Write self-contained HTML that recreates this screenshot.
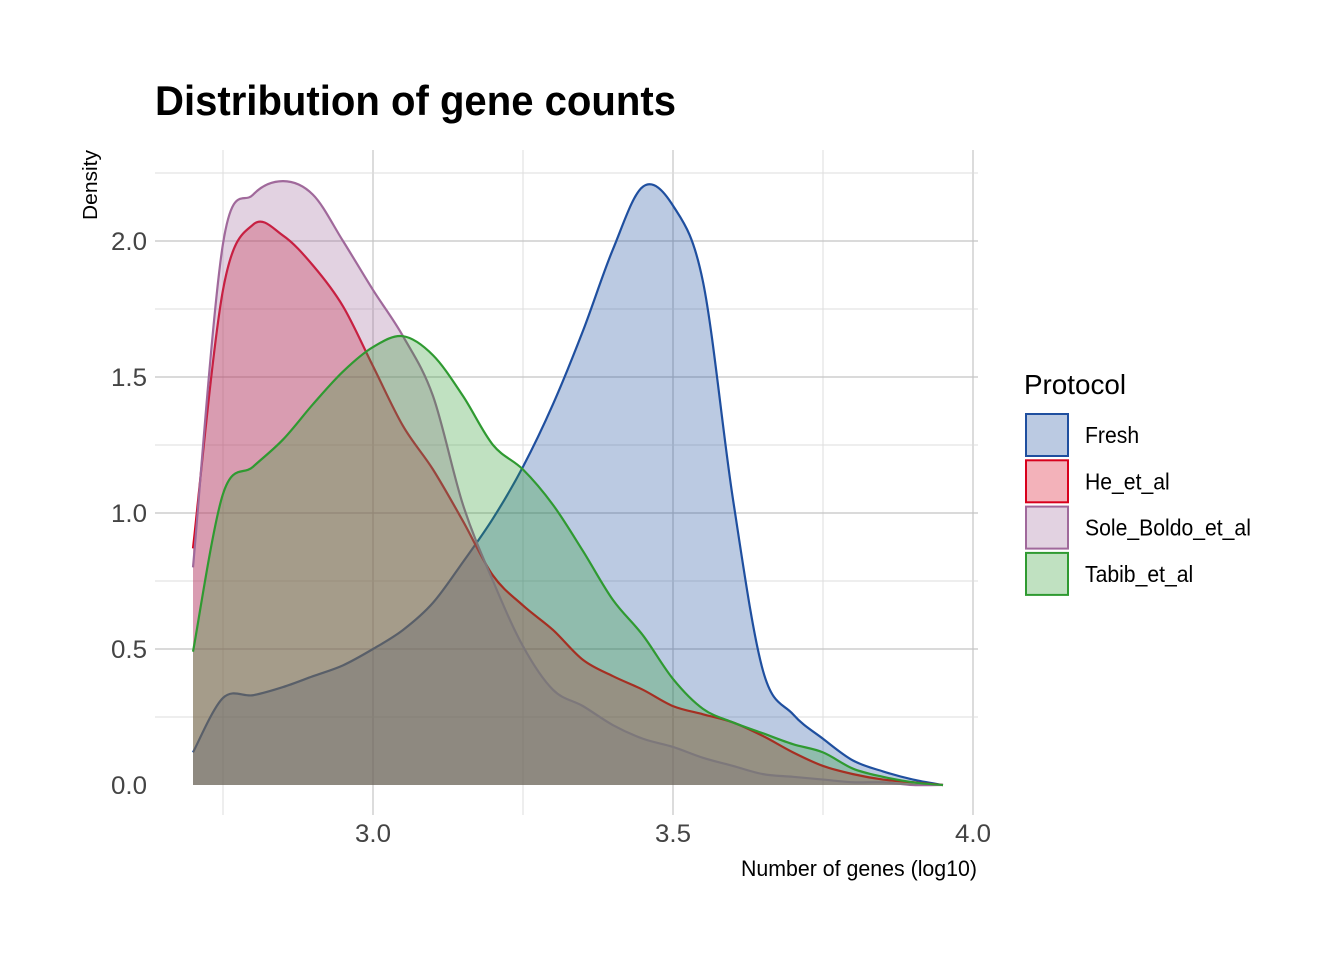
<!DOCTYPE html>
<html><head><meta charset="utf-8"><style>
html,body{margin:0;padding:0;background:#fff;}
svg{display:block;font-family:"Liberation Sans Narrow","Liberation Sans",sans-serif;}
</style></head><body>
<svg id="chart" width="1344" height="960" viewBox="0 0 1344 960" xmlns="http://www.w3.org/2000/svg">
<text x="155" y="115" font-size="42" font-weight="bold" textLength="521" lengthAdjust="spacingAndGlyphs">Distribution of gene counts</text>
<g id="grid"></g>
<g id="series"></g>
<g id="axes"></g>
<text transform="translate(97,220) rotate(-90)" font-size="20" textLength="70" lengthAdjust="spacingAndGlyphs">Density</text>
<text x="977" y="876" font-size="22" text-anchor="end" textLength="236" lengthAdjust="spacingAndGlyphs">Number of genes (log10)</text>
<g id="legend">
<text x="1024" y="394" font-size="28" textLength="102" lengthAdjust="spacingAndGlyphs">Protocol</text>
</g>
</svg>
<script>
const xs = [2.70,2.75,2.80,2.85,2.90,2.95,3.00,3.05,3.10,3.15,3.20,3.25,3.30,3.35,3.40,3.45,3.50,3.55,3.60,3.65,3.70,3.75,3.80,3.85,3.90,3.95];
const seriesNames = ["Fresh","He_et_al","Sole_Boldo_et_al","Tabib_et_al"];
const fresh = [0.12,0.32,0.33,0.36,0.40,0.44,0.50,0.57,0.67,0.82,0.98,1.17,1.40,1.67,1.97,2.20,2.13,1.85,1.05,0.42,0.26,0.17,0.09,0.05,0.02,0.0];
const he = [0.87,1.82,2.06,2.02,1.91,1.76,1.54,1.32,1.16,0.97,0.77,0.66,0.57,0.46,0.40,0.35,0.29,0.26,0.23,0.18,0.12,0.07,0.04,0.02,0.01,0.0];
const sole = [0.80,1.99,2.17,2.22,2.17,2.00,1.82,1.65,1.43,1.03,0.75,0.51,0.35,0.29,0.22,0.17,0.14,0.10,0.07,0.04,0.03,0.02,0.01,0.01,0.0,0.0];
const tabib = [0.49,1.07,1.17,1.27,1.40,1.52,1.61,1.65,1.58,1.43,1.25,1.16,1.03,0.86,0.68,0.55,0.39,0.28,0.23,0.19,0.15,0.12,0.06,0.03,0.01,0.0];
const xTicks = [3.0,3.5,4.0];
const xTickLabels = ["3.0","3.5","4.0"];
const yTicks = [0,0.5,1.0,1.5,2.0];
const yTickLabels = ["0.0","0.5","1.0","1.5","2.0"];

const NS="http://www.w3.org/2000/svg";
const X = v => 373 + (v-3.0)*600;
const Y = v => 785 - v*272;
const L=155,R=978,T=150,B=815;
function mk(tag,attrs,parent){const e=document.createElementNS(NS,tag);for(const k in attrs)e.setAttribute(k,attrs[k]);parent.appendChild(e);return e;}
const grid=document.getElementById('grid');
for(let v=2.75;v<=4.0001;v+=0.25){
  const major=Math.abs(v*2-Math.round(v*2))<1e-6;
  const l=mk('line',{x1:X(v),x2:X(v),y1:T,y2:B,stroke:major?'#c4c4c4':'#dddddd','stroke-width':major?1.2:1},grid);
  
  
}
for(let v=0.25;v<=2.25001;v+=0.25){
  const major=Math.abs(v*2-Math.round(v*2))<1e-6;
  const l=mk('line',{x1:L,x2:R,y1:Y(v),y2:Y(v),stroke:major?'#c4c4c4':'#dddddd','stroke-width':major?1.2:1},grid);
  
  
}
function pathD(vals){
  const p=xs.map((x,i)=>[X(x),Y(vals[i])]);
  let d=`M${p[0][0]},${p[0][1]}`;
  for(let i=0;i<p.length-1;i++){
    const p0=p[Math.max(0,i-1)],p1=p[i],p2=p[i+1],p3=p[Math.min(p.length-1,i+2)];
    const c1=[p1[0]+(p2[0]-p0[0])/6,p1[1]+(p2[1]-p0[1])/6];
    const c2=[p2[0]-(p3[0]-p1[0])/6,p2[1]-(p3[1]-p1[1])/6];
    d+=` C${c1[0]},${c1[1]} ${c2[0]},${c2[1]} ${p2[0]},${p2[1]}`;
  }
  return d;
}
const colors=["#1f4f9f","#d8001c","#a0699b","#2f9a31"];
const fills=["rgba(31,79,159,0.3)","rgba(216,0,28,0.3)","rgba(160,105,155,0.3)","rgba(47,154,49,0.3)"];
const data=[fresh,he,sole,tabib];
const sg=document.getElementById('series');
data.forEach((vals,i)=>{
  const d=pathD(vals);
  const a=mk('path',{d:d+` L${X(xs[xs.length-1])},${Y(0)} L${X(xs[0])},${Y(0)} Z`,fill:fills[i],stroke:'none'},sg);
  
  
  const ln=mk('path',{d:d,fill:'none',stroke:colors[i],'stroke-width':2.2},sg);
  
  
});
const ax=document.getElementById('axes');
xTicks.forEach((v,i)=>{
  const t=mk('text',{x:X(v),y:842,'font-size':25,fill:'#444','text-anchor':'middle',textLength:36,lengthAdjust:'spacingAndGlyphs'},ax);
  t.textContent=xTickLabels[i];
  
  
});
yTicks.forEach((v,i)=>{
  const t=mk('text',{x:147,y:Y(v)+9,'font-size':25,fill:'#444','text-anchor':'end',textLength:36,lengthAdjust:'spacingAndGlyphs'},ax);
  t.textContent=yTickLabels[i];
  
  
});
const lg=document.getElementById('legend');
seriesNames.forEach((n,i)=>{
  const y=414+i*46.3;
  const r=mk('rect',{x:1026,y:y,width:42,height:42,fill:fills[i],stroke:colors[i],'stroke-width':2},lg);
  
  
  const t=mk('text',{x:1085,y:y+29,'font-size':23},lg);
  t.textContent=n;
  
  
  const w=t.getComputedTextLength();
  t.setAttribute('textLength',(w*0.92).toFixed(1));
  t.setAttribute('lengthAdjust','spacingAndGlyphs');
});
</script>
</body></html>
